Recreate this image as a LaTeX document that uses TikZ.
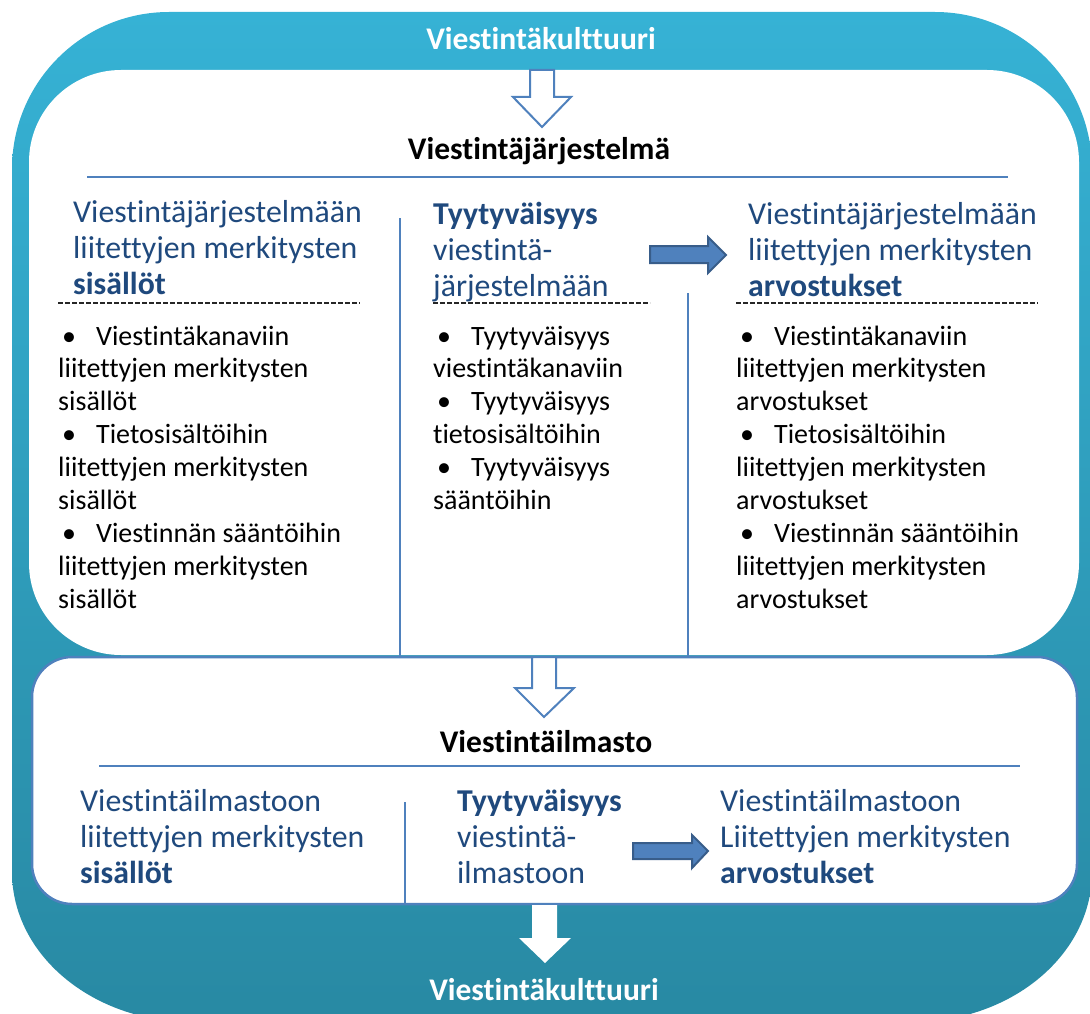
\documentclass[tikz,border=0pt]{standalone}
\usepackage{fontspec}
\setmainfont[Ligatures=NoCommon]{Carlito}
\definecolor{hblue}{HTML}{1F497D}
\definecolor{lblue}{HTML}{4F81BD}
\definecolor{dblue}{HTML}{385D8A}
\definecolor{ctop}{RGB}{54,178,213}
\definecolor{cbot}{RGB}{40,137,163}
\newcommand\bu{\makebox[38pt][l]{\hspace{4pt}\textbullet}}
\tikzset{
  head/.style={anchor=base west, inner sep=0pt, align=left, text=hblue, font=\fontsize{31.8}{36.4}\selectfont},
  bul/.style={anchor=base west, inner sep=0pt, align=left, text=black, font=\fontsize{28}{32.9}\selectfont},
  ttl/.style={anchor=base, inner sep=0pt, font=\fontsize{31.5}{36}\selectfont\bfseries},
  rule/.style={lblue, line width=2.2pt},
  vrule/.style={lblue, line width=1.6pt},
  dashrule/.style={black!85, line width=1.2pt, dash pattern=on 5pt off 2pt},
  hollow/.style={fill=white, draw=lblue, line width=2pt, line join=miter},
  block/.style={fill=lblue, draw=dblue, line width=2pt, line join=miter}
}
\begin{document}
\begin{tikzpicture}[x=1pt,y=-1pt]
\useasboundingbox (0,0) rectangle (1090,1014);
\clip (0,0) rectangle (1090,1014);
% outer culture shape
\shade[top color=ctop, bottom color=cbot]
  (169,12) -- (935,12) .. controls (1021.7,12) and (1092,82.3) .. (1092,169)
  -- (1092,872) .. controls (1092,954.8) and (1011.4,1022) .. (912,1022)
  -- (192,1022) .. controls (92.6,1022) and (12,954.8) .. (12,872)
  -- (12,169) .. controls (12,82.3) and (82.3,12) .. (169,12) -- cycle;
% box 1
\fill[white, rounded corners=92pt] (29,70) rectangle (1079,655);
% box 2
\filldraw[fill=white, draw=lblue, line width=2.5pt, rounded corners=40pt] (32,657) rectangle (1077,904);

% titles
\node[ttl, text=white] (kult1) at (541,50) {Viestintäkulttuuri};
\node[ttl] (jarj) at (539,160) {Viestintäjärjestelmä};
\node[ttl] (ilma) at (546,752) {Viestintäilmasto};
\node[ttl, text=white] (kult2) at (544,1000) {Viestintäkulttuuri};

% rules
\coordinate (r1a) at (87,177); \coordinate (r1b) at (1008,177);
\draw[rule] (r1a) -- (r1b);
\coordinate (r2a) at (99,766); \coordinate (r2b) at (1020,766);
\draw[rule] (r2a) -- (r2b);
\coordinate (v1a) at (400,218); \coordinate (v1b) at (400,656);
\draw[vrule] (v1a) -- (v1b);
\coordinate (v2a) at (688,293); \coordinate (v2b) at (688,656);
\draw[vrule] (v2a) -- (v2b);
\coordinate (v3a) at (405,802); \coordinate (v3b) at (405,904);
\draw[vrule] (v3a) -- (v3b);

% dashed
\coordinate (d1a) at (58,303); \coordinate (d1b) at (360,303);
\draw[dashrule] (d1a) -- (d1b);
\coordinate (d2a) at (433,303); \coordinate (d2b) at (650,303);
\draw[dashrule] (d2a) -- (d2b);
\coordinate (d3a) at (736,303); \coordinate (d3b) at (1038,303);
\draw[dashrule] (d3a) -- (d3b);

% hollow arrows
\draw[hollow] (530,70) -- (554,70) -- (554,97) -- (571,97) -- (542,127) -- (513,97) -- (530,97) -- cycle;
\draw[hollow] (532,657) -- (556,657) -- (556,688) -- (574,688) -- (544,717) -- (515,688) -- (532,688) -- cycle;
% white arrow
\fill[white] (532,905) -- (557,905) -- (557,938) -- (571,938) -- (545,963) -- (519,938) -- (532,938) -- cycle;
% block arrows
\draw[block] (650,246) -- (708,246) -- (708,237) -- (726,255) -- (708,273) -- (708,263) -- (650,263) -- cycle;
\draw[block] (633,843) -- (692,843) -- (692,835) -- (708,851) -- (692,868) -- (692,859) -- (633,859) -- cycle;

% box 1 headings (anchor = baseline of last line)
\node[head] (h1) at (73,294.8) {Viestintäjärjestelmään\\liitettyjen merkitysten\\\textbf{sisällöt}};
\node[head] (h2) at (433,296.8) {\textbf{Tyytyväisyys}\\viestintä-\\järjestelmään};
\node[head] (h3) at (748,296.8) {Viestintäjärjestelmään\\liitettyjen merkitysten\\\textbf{arvostukset}};

% bullets
\node[bul] (b1) at (58,608.2) {\bu Viestintäkanaviin\\liitettyjen merkitysten\\sisällöt\\\bu Tietosisältöihin\\liitettyjen merkitysten\\sisällöt\\\bu Viestinnän sääntöihin\\liitettyjen merkitysten\\sisällöt};
\node[bul] (b2) at (433,509.5) {\bu Tyytyväisyys\\viestintäkanaviin\\\bu Tyytyväisyys\\tietosisältöihin\\\bu Tyytyväisyys\\sääntöihin};
\node[bul] (b3) at (736,608.2) {\bu Viestintäkanaviin\\liitettyjen merkitysten\\arvostukset\\\bu Tietosisältöihin\\liitettyjen merkitysten\\arvostukset\\\bu Viestinnän sääntöihin\\liitettyjen merkitysten\\arvostukset};

% box 2 headings
\node[head] (k1) at (80,883.8) {Viestintäilmastoon\\liitettyjen merkitysten\\\textbf{sisällöt}};
\node[head] (k2) at (457,883.8) {\textbf{Tyytyväisyys}\\viestintä-\\ilmastoon};
\node[head] (k3) at (720,883.8) {Viestintäilmastoon\\Liitettyjen merkitysten\\\textbf{arvostukset}};
\end{tikzpicture}
\end{document}
